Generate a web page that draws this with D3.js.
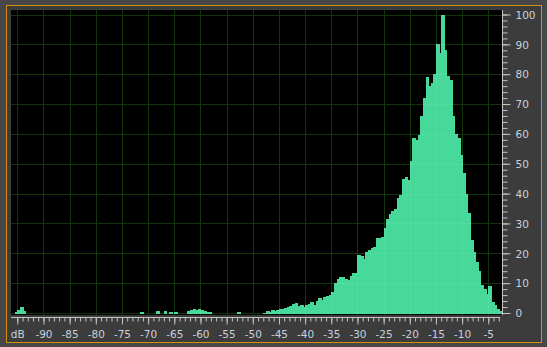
<!DOCTYPE html>
<html>
<head>
<meta charset="utf-8">
<script src="https://cdn.jsdelivr.net/npm/d3@7"></script>
<style>
  html, body { margin: 0; padding: 0; background: #474747; }
  svg { display: block; }
  .axis text { font-family: "DejaVu Sans", Verdana, sans-serif; font-size: 10.5px; fill: #c9d1dc; }
  .axis line { stroke: #c4c4c4; }
  .grid line { stroke: #12360a; }
  .grid.over line { stroke: #ffffff; stroke-opacity: 0.06; }
</style>
</head>
<body>
<div id="drawArea"></div>
<script>
// amplitude histogram, 0.5 dB bins
const binWidth = 0.5;

// main body of the histogram, bins start at -48 dB
const mainStart = -48;
const mainValues = [
  0, 0.8, 0.3, 1.0, 0.7, 0.9, 1.5, 1.5, 1.7, 2.0,          // -48 .. -43.5
  2.3, 3.0, 3.3, 2.4, 2.6, 1.9, 2.7, 3.0, 3.7, 2.7,        // -43 .. -38.5
  4.0, 4.9, 4.4, 5.5, 5.8, 6.0, 7.1, 10.2, 11.3, 12.0,     // -38 .. -33.5
  12.0, 11.3, 11.0, 12.5, 13.3, 13.5, 19.4, 19.0, 18.0, 20.5, // -33 .. -28.5
  21.0, 21.7, 22.0, 25.2, 25.0, 25.5, 28.4, 31.5, 33.0, 34.2, // -28 .. -23.5
  35.0, 38.4, 39.5, 45.0, 45.5, 44.5, 51.0, 58.5, 58.0, 59.5, // -23 .. -18.5
  66.0, 72.0, 79.0, 76.0, 77.0, 80.0, 90.0, 87.0, 100, 88.0,  // -18 .. -13.5
  79.5, 78.0, 66.0, 60.0, 58.5, 53.0, 47.0, 40.0, 33.5, 24.5, // -13 .. -8.5
  20.5, 17.0, 14.0, 9.5, 8.0, 6.5, 9.0, 3.8, 2.6, 1.4,        // -8 .. -3.5
  0.6                                                         // -3
];

// scattered low level bins below -48 dB
const lowBins = [-95.5, -95, -94.5, -94, -71.5, -68.5, -67, -66, -65,
  -62.5, -62, -61.5, -61, -60.5, -60, -59.5, -59, -58.5, -53];
const lowValues = [0.4, 1.0, 2.0, 0.8, 0.4, 0.6, 0.6, 0.4, 0.4,
  0.7, 1.0, 1.3, 1.0, 1.4, 0.9, 0.7, 0.5, 0.3, 0.4];

const xMajor = d3.range(-95, -4, 5);
const xMinor = d3.range(-95, -2, 1);
const yMajor = d3.range(0, 101, 10);
const yMinor = d3.range(0, 101, 2);

const bins = lowBins.map((d, i) => ({ db: d, v: lowValues[i] }))
  .concat(mainValues.map((v, i) => ({ db: mainStart + i * binWidth, v })));

const width = 547;
const height = 347;
const plot = { left: 11, top: 10, right: 502, bottom: 315 };

const svg = d3.select('#drawArea').append('svg')
  .attr('width', width)
  .attr('height', height);

// frame
svg.append('rect')
  .attr('x', 6.5).attr('y', 5.5)
  .attr('width', 535).attr('height', 337)
  .attr('fill', '#3c3c3c')
  .attr('stroke', '#d4900c');

svg.append('rect')
  .attr('x', plot.left).attr('y', plot.top)
  .attr('width', plot.right - plot.left)
  .attr('height', plot.bottom - plot.top)
  .attr('fill', '#000');

const x = d3.scaleLinear().domain([-95, -5]).range([17.3, 488.3]);
const y = d3.scaleLinear().domain([0, 100]).range([313, 14.5]);

function drawGrid(cls) {
  const grid = svg.append('g').attr('class', cls);
  grid.selectAll('line.v')
    .data(xMajor)
    .join('line')
    .attr('class', 'v')
    .attr('x1', d => Math.round(x(d)) + 0.5).attr('x2', d => Math.round(x(d)) + 0.5)
    .attr('y1', plot.top).attr('y2', plot.bottom);
  grid.selectAll('line.h')
    .data(yMajor)
    .join('line')
    .attr('class', 'h')
    .attr('x1', plot.left).attr('x2', plot.right)
    .attr('y1', d => Math.round(y(d)) + 0.5).attr('y2', d => Math.round(y(d)) + 0.5);
  return grid;
}

drawGrid('grid');

const bars = svg.append('g')
  .attr('shape-rendering', 'crispEdges');
bars.selectAll('rect')
  .data(bins)
  .join('rect')
  .attr('x', d => x(d.db))
  .attr('width', d => x(d.db + binWidth) - x(d.db) + 1)
  .attr('y', d => y(d.v))
  .attr('height', d => y(0) - y(d.v) + 1)
  .attr('fill', '#47d99a');

// faint grid showing through the bars only, clipped to the bar shapes
const clip = svg.append('clipPath').attr('id', 'barClip');
clip.selectAll('rect')
  .data(bins)
  .join('rect')
  .attr('x', d => x(d.db))
  .attr('width', d => x(d.db + binWidth) - x(d.db) + 1)
  .attr('y', d => y(d.v))
  .attr('height', d => y(0) - y(d.v) + 1);
drawGrid('grid over').attr('clip-path', 'url(#barClip)');

// y axis on the right
const yAxisG = svg.append('g').attr('class', 'axis')
  .attr('transform', `translate(${plot.right + 0.5}, 0)`);
yAxisG.append('g')
  .call(d3.axisRight(y).tickValues(yMinor).tickSize(5).tickFormat(''))
  .call(g => g.select('.domain').remove());
yAxisG.append('g')
  .call(d3.axisRight(y).tickValues(yMajor).tickSize(8).tickPadding(5))
  .call(g => g.select('.domain').remove())
  .call(g => g.selectAll('text').attr('dy', '0.36em'));
yAxisG.append('line')
  .attr('y1', plot.top).attr('y2', plot.bottom)
  .attr('stroke', '#c4c4c4');

// x axis along the bottom
const xAxisG = svg.append('g').attr('class', 'axis')
  .attr('transform', `translate(0, ${plot.bottom + 2.5})`);
xAxisG.append('g')
  .call(d3.axisBottom(x).tickValues(xMinor).tickSize(4).tickFormat(''))
  .call(g => g.select('.domain').remove());
xAxisG.append('g')
  .call(d3.axisBottom(x).tickValues(xMajor).tickSize(7).tickPadding(6)
    .tickFormat(d => d === -95 ? 'dB' : String(d)))
  .call(g => g.select('.domain').remove());
xAxisG.append('line')
  .attr('x1', plot.left).attr('x2', plot.right - 2)
  .attr('stroke', '#c4c4c4');
</script>
</body>
</html>
